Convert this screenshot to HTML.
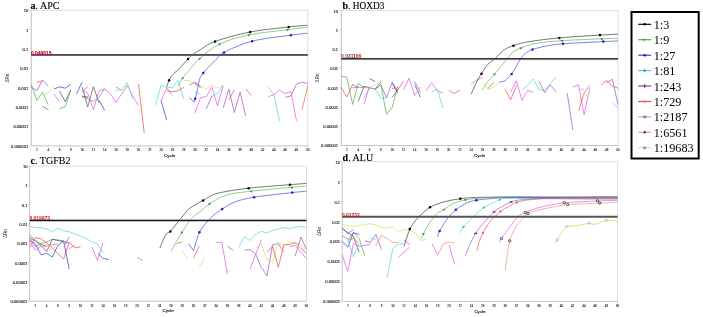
<!DOCTYPE html><html><head><meta charset="utf-8"><style>html,body{margin:0;padding:0;background:#fff;overflow:hidden}svg{display:block;will-change:transform;filter:blur(0.25px)}</style></head><body>
<svg width="703" height="317" viewBox="0 0 703 317">
<rect width="703" height="317" fill="#fff"/>
<path d="M31.3 10.3H307.8V145.9" fill="none" stroke="#d4d4d4" stroke-width="0.8"/>
<path d="M31.3 10.3V145.9H307.8" fill="none" stroke="#c4c4c4" stroke-width="1"/>
<g font-family="Liberation Sans, sans-serif" font-size="4.1" fill="#1a1a1a" stroke="#1a1a1a" stroke-width="0.12" text-anchor="end"><text x="28.2" y="12.2">10</text><text x="28.2" y="31.6">1</text><text x="28.2" y="50.9">0.1</text><text x="28.2" y="70.3">0.01</text><text x="28.2" y="89.7">0.001</text><text x="28.2" y="109.1">0.0001</text><text x="28.2" y="128.4">0.00001</text><text x="28.2" y="147.8">0.000001</text></g>
<path d="M29.8 10.3H31.3M29.8 29.7H31.3M29.8 49.0H31.3M29.8 68.4H31.3M29.8 87.8H31.3M29.8 107.2H31.3M29.8 126.5H31.3M29.8 145.9H31.3M36.9 145.9V147.2M48.2 145.9V147.2M59.5 145.9V147.2M70.8 145.9V147.2M82.1 145.9V147.2M93.4 145.9V147.2M104.7 145.9V147.2M115.9 145.9V147.2M127.2 145.9V147.2M138.5 145.9V147.2M149.8 145.9V147.2M161.1 145.9V147.2M172.4 145.9V147.2M183.7 145.9V147.2M194.9 145.9V147.2M206.2 145.9V147.2M217.5 145.9V147.2M228.8 145.9V147.2M240.1 145.9V147.2M251.4 145.9V147.2M262.7 145.9V147.2M273.9 145.9V147.2M285.2 145.9V147.2M296.5 145.9V147.2M307.8 145.9V147.2" stroke="#bbb" stroke-width="0.6"/>
<g font-family="Liberation Sans, sans-serif" font-size="4.1" fill="#1a1a1a" stroke="#1a1a1a" stroke-width="0.12" text-anchor="middle"><text x="36.9" y="151.2" textLength="1.65" lengthAdjust="spacingAndGlyphs">2</text><text x="48.2" y="151.2" textLength="1.65" lengthAdjust="spacingAndGlyphs">4</text><text x="59.5" y="151.2" textLength="1.65" lengthAdjust="spacingAndGlyphs">6</text><text x="70.8" y="151.2" textLength="1.65" lengthAdjust="spacingAndGlyphs">8</text><text x="82.1" y="151.2" textLength="3.30" lengthAdjust="spacingAndGlyphs">10</text><text x="93.4" y="151.2" textLength="3.30" lengthAdjust="spacingAndGlyphs">12</text><text x="104.7" y="151.2" textLength="3.30" lengthAdjust="spacingAndGlyphs">14</text><text x="115.9" y="151.2" textLength="3.30" lengthAdjust="spacingAndGlyphs">16</text><text x="127.2" y="151.2" textLength="3.30" lengthAdjust="spacingAndGlyphs">18</text><text x="138.5" y="151.2" textLength="3.30" lengthAdjust="spacingAndGlyphs">20</text><text x="149.8" y="151.2" textLength="3.30" lengthAdjust="spacingAndGlyphs">22</text><text x="161.1" y="151.2" textLength="3.30" lengthAdjust="spacingAndGlyphs">24</text><text x="172.4" y="151.2" textLength="3.30" lengthAdjust="spacingAndGlyphs">26</text><text x="183.7" y="151.2" textLength="3.30" lengthAdjust="spacingAndGlyphs">28</text><text x="194.9" y="151.2" textLength="3.30" lengthAdjust="spacingAndGlyphs">30</text><text x="206.2" y="151.2" textLength="3.30" lengthAdjust="spacingAndGlyphs">32</text><text x="217.5" y="151.2" textLength="3.30" lengthAdjust="spacingAndGlyphs">34</text><text x="228.8" y="151.2" textLength="3.30" lengthAdjust="spacingAndGlyphs">36</text><text x="240.1" y="151.2" textLength="3.30" lengthAdjust="spacingAndGlyphs">38</text><text x="251.4" y="151.2" textLength="3.30" lengthAdjust="spacingAndGlyphs">40</text><text x="262.7" y="151.2" textLength="3.30" lengthAdjust="spacingAndGlyphs">42</text><text x="273.9" y="151.2" textLength="3.30" lengthAdjust="spacingAndGlyphs">44</text><text x="285.2" y="151.2" textLength="3.30" lengthAdjust="spacingAndGlyphs">46</text><text x="296.5" y="151.2" textLength="3.30" lengthAdjust="spacingAndGlyphs">48</text><text x="307.8" y="151.2" textLength="3.30" lengthAdjust="spacingAndGlyphs">50</text></g>
<text x="169.6" y="157.0" font-family="Liberation Sans, sans-serif" font-size="4.4" fill="#222" stroke="#222" stroke-width="0.15" text-anchor="middle">Cycle</text>
<text transform="translate(8.6 78.1) rotate(-90)" font-family="Liberation Sans, sans-serif" font-size="4.5" fill="#222" text-anchor="middle">ΔRn</text>
<text x="30.6" y="8.9" font-family="Liberation Serif, serif" font-size="10" fill="#000" stroke="#000" stroke-width="0.12"><tspan font-weight="bold">a</tspan>. APC</text>
<path d="M341.3 10.6H618.0V145.5" fill="none" stroke="#d4d4d4" stroke-width="0.8"/>
<path d="M341.3 10.6V145.5H618.0" fill="none" stroke="#c4c4c4" stroke-width="1"/>
<g font-family="Liberation Sans, sans-serif" font-size="4.1" fill="#1a1a1a" stroke="#1a1a1a" stroke-width="0.12" text-anchor="end"><text x="338.1" y="12.5">10</text><text x="338.1" y="31.8">1</text><text x="338.1" y="51.0">0.1</text><text x="338.1" y="70.3">0.01</text><text x="338.1" y="89.6">0.001</text><text x="338.1" y="108.9">0.0001</text><text x="338.1" y="128.1">0.00001</text><text x="338.1" y="147.4">0.000001</text></g>
<path d="M339.8 10.6H341.3M339.8 29.9H341.3M339.8 49.1H341.3M339.8 68.4H341.3M339.8 87.7H341.3M339.8 107.0H341.3M339.8 126.2H341.3M339.8 145.5H341.3M346.9 145.5V146.8M358.2 145.5V146.8M369.5 145.5V146.8M380.8 145.5V146.8M392.1 145.5V146.8M403.4 145.5V146.8M414.7 145.5V146.8M426.0 145.5V146.8M437.3 145.5V146.8M448.6 145.5V146.8M459.9 145.5V146.8M471.2 145.5V146.8M482.5 145.5V146.8M493.8 145.5V146.8M505.1 145.5V146.8M516.4 145.5V146.8M527.6 145.5V146.8M538.9 145.5V146.8M550.2 145.5V146.8M561.5 145.5V146.8M572.8 145.5V146.8M584.1 145.5V146.8M595.4 145.5V146.8M606.7 145.5V146.8M618.0 145.5V146.8" stroke="#bbb" stroke-width="0.6"/>
<g font-family="Liberation Sans, sans-serif" font-size="4.1" fill="#1a1a1a" stroke="#1a1a1a" stroke-width="0.12" text-anchor="middle"><text x="346.9" y="150.8" textLength="1.65" lengthAdjust="spacingAndGlyphs">2</text><text x="358.2" y="150.8" textLength="1.65" lengthAdjust="spacingAndGlyphs">4</text><text x="369.5" y="150.8" textLength="1.65" lengthAdjust="spacingAndGlyphs">6</text><text x="380.8" y="150.8" textLength="1.65" lengthAdjust="spacingAndGlyphs">8</text><text x="392.1" y="150.8" textLength="3.30" lengthAdjust="spacingAndGlyphs">10</text><text x="403.4" y="150.8" textLength="3.30" lengthAdjust="spacingAndGlyphs">12</text><text x="414.7" y="150.8" textLength="3.30" lengthAdjust="spacingAndGlyphs">14</text><text x="426.0" y="150.8" textLength="3.30" lengthAdjust="spacingAndGlyphs">16</text><text x="437.3" y="150.8" textLength="3.30" lengthAdjust="spacingAndGlyphs">18</text><text x="448.6" y="150.8" textLength="3.30" lengthAdjust="spacingAndGlyphs">20</text><text x="459.9" y="150.8" textLength="3.30" lengthAdjust="spacingAndGlyphs">22</text><text x="471.2" y="150.8" textLength="3.30" lengthAdjust="spacingAndGlyphs">24</text><text x="482.5" y="150.8" textLength="3.30" lengthAdjust="spacingAndGlyphs">26</text><text x="493.8" y="150.8" textLength="3.30" lengthAdjust="spacingAndGlyphs">28</text><text x="505.1" y="150.8" textLength="3.30" lengthAdjust="spacingAndGlyphs">30</text><text x="516.4" y="150.8" textLength="3.30" lengthAdjust="spacingAndGlyphs">32</text><text x="527.6" y="150.8" textLength="3.30" lengthAdjust="spacingAndGlyphs">34</text><text x="538.9" y="150.8" textLength="3.30" lengthAdjust="spacingAndGlyphs">36</text><text x="550.2" y="150.8" textLength="3.30" lengthAdjust="spacingAndGlyphs">38</text><text x="561.5" y="150.8" textLength="3.30" lengthAdjust="spacingAndGlyphs">40</text><text x="572.8" y="150.8" textLength="3.30" lengthAdjust="spacingAndGlyphs">42</text><text x="584.1" y="150.8" textLength="3.30" lengthAdjust="spacingAndGlyphs">44</text><text x="595.4" y="150.8" textLength="3.30" lengthAdjust="spacingAndGlyphs">46</text><text x="606.7" y="150.8" textLength="3.30" lengthAdjust="spacingAndGlyphs">48</text><text x="618.0" y="150.8" textLength="3.30" lengthAdjust="spacingAndGlyphs">50</text></g>
<text x="479.6" y="156.6" font-family="Liberation Sans, sans-serif" font-size="4.4" fill="#222" stroke="#222" stroke-width="0.15" text-anchor="middle">Cycle</text>
<text transform="translate(318.8 78.0) rotate(-90)" font-family="Liberation Sans, sans-serif" font-size="4.5" fill="#222" text-anchor="middle">ΔRn</text>
<text x="342.4" y="8.9" font-family="Liberation Serif, serif" font-size="10" fill="#000" stroke="#000" stroke-width="0.12"><tspan font-weight="bold">b</tspan></text><text x="348.0" y="8.9" font-family="Liberation Serif, serif" font-size="10" fill="#000" stroke="#000" stroke-width="0.12" textLength="36.4" lengthAdjust="spacingAndGlyphs">. HOXD3</text>
<path d="M29.7 166.1H306.5V301.2" fill="none" stroke="#d4d4d4" stroke-width="0.8"/>
<path d="M29.7 166.1V301.2H306.5" fill="none" stroke="#c4c4c4" stroke-width="1"/>
<g font-family="Liberation Sans, sans-serif" font-size="4.1" fill="#1a1a1a" stroke="#1a1a1a" stroke-width="0.12" text-anchor="end"><text x="27.5" y="168.0">10</text><text x="27.5" y="187.3">1</text><text x="27.5" y="206.6">0.1</text><text x="27.5" y="225.9">0.01</text><text x="27.5" y="245.2">0.001</text><text x="27.5" y="264.5">0.0001</text><text x="27.5" y="283.8">0.00001</text><text x="27.5" y="303.1">0.000001</text></g>
<path d="M28.2 166.1H29.7M28.2 185.4H29.7M28.2 204.7H29.7M28.2 224.0H29.7M28.2 243.3H29.7M28.2 262.6H29.7M28.2 281.9H29.7M28.2 301.2H29.7M35.3 301.2V302.5M46.6 301.2V302.5M57.9 301.2V302.5M69.2 301.2V302.5M80.5 301.2V302.5M91.8 301.2V302.5M103.1 301.2V302.5M114.4 301.2V302.5M125.7 301.2V302.5M137.0 301.2V302.5M148.3 301.2V302.5M159.6 301.2V302.5M170.9 301.2V302.5M182.2 301.2V302.5M193.5 301.2V302.5M204.8 301.2V302.5M216.1 301.2V302.5M227.4 301.2V302.5M238.7 301.2V302.5M250.0 301.2V302.5M261.3 301.2V302.5M272.6 301.2V302.5M283.9 301.2V302.5M295.2 301.2V302.5M306.5 301.2V302.5" stroke="#bbb" stroke-width="0.6"/>
<g font-family="Liberation Sans, sans-serif" font-size="4.1" fill="#1a1a1a" stroke="#1a1a1a" stroke-width="0.12" text-anchor="middle"><text x="35.3" y="306.5" textLength="1.65" lengthAdjust="spacingAndGlyphs">2</text><text x="46.6" y="306.5" textLength="1.65" lengthAdjust="spacingAndGlyphs">4</text><text x="57.9" y="306.5" textLength="1.65" lengthAdjust="spacingAndGlyphs">6</text><text x="69.2" y="306.5" textLength="1.65" lengthAdjust="spacingAndGlyphs">8</text><text x="80.5" y="306.5" textLength="3.30" lengthAdjust="spacingAndGlyphs">10</text><text x="91.8" y="306.5" textLength="3.30" lengthAdjust="spacingAndGlyphs">12</text><text x="103.1" y="306.5" textLength="3.30" lengthAdjust="spacingAndGlyphs">14</text><text x="114.4" y="306.5" textLength="3.30" lengthAdjust="spacingAndGlyphs">16</text><text x="125.7" y="306.5" textLength="3.30" lengthAdjust="spacingAndGlyphs">18</text><text x="137.0" y="306.5" textLength="3.30" lengthAdjust="spacingAndGlyphs">20</text><text x="148.3" y="306.5" textLength="3.30" lengthAdjust="spacingAndGlyphs">22</text><text x="159.6" y="306.5" textLength="3.30" lengthAdjust="spacingAndGlyphs">24</text><text x="170.9" y="306.5" textLength="3.30" lengthAdjust="spacingAndGlyphs">26</text><text x="182.2" y="306.5" textLength="3.30" lengthAdjust="spacingAndGlyphs">28</text><text x="193.5" y="306.5" textLength="3.30" lengthAdjust="spacingAndGlyphs">30</text><text x="204.8" y="306.5" textLength="3.30" lengthAdjust="spacingAndGlyphs">32</text><text x="216.1" y="306.5" textLength="3.30" lengthAdjust="spacingAndGlyphs">34</text><text x="227.4" y="306.5" textLength="3.30" lengthAdjust="spacingAndGlyphs">36</text><text x="238.7" y="306.5" textLength="3.30" lengthAdjust="spacingAndGlyphs">38</text><text x="250.0" y="306.5" textLength="3.30" lengthAdjust="spacingAndGlyphs">40</text><text x="261.3" y="306.5" textLength="3.30" lengthAdjust="spacingAndGlyphs">42</text><text x="272.6" y="306.5" textLength="3.30" lengthAdjust="spacingAndGlyphs">44</text><text x="283.9" y="306.5" textLength="3.30" lengthAdjust="spacingAndGlyphs">46</text><text x="295.2" y="306.5" textLength="3.30" lengthAdjust="spacingAndGlyphs">48</text><text x="306.5" y="306.5" textLength="3.30" lengthAdjust="spacingAndGlyphs">50</text></g>
<text x="168.1" y="312.3" font-family="Liberation Sans, sans-serif" font-size="4.4" fill="#222" stroke="#222" stroke-width="0.15" text-anchor="middle">Cycle</text>
<text transform="translate(7.0 233.6) rotate(-90)" font-family="Liberation Sans, sans-serif" font-size="4.5" fill="#222" text-anchor="middle">ΔRn</text>
<text x="30.6" y="163.9" font-family="Liberation Serif, serif" font-size="10" fill="#000" stroke="#000" stroke-width="0.12"><tspan font-weight="bold">c</tspan>. TGFB2</text>
<path d="M342.2 161.7H617.6V301.4" fill="none" stroke="#d4d4d4" stroke-width="0.8"/>
<path d="M342.2 161.7V301.4H617.6" fill="none" stroke="#c4c4c4" stroke-width="1"/>
<g font-family="Liberation Sans, sans-serif" font-size="4.1" fill="#1a1a1a" stroke="#1a1a1a" stroke-width="0.12" text-anchor="end"><text x="340.1" y="163.6">10</text><text x="340.1" y="183.6">1</text><text x="340.1" y="203.5">0.1</text><text x="340.1" y="223.5">0.01</text><text x="340.1" y="243.4">0.001</text><text x="340.1" y="263.4">0.0001</text><text x="340.1" y="283.3">0.00001</text><text x="340.1" y="303.3">0.000001</text></g>
<path d="M340.7 161.7H342.2M340.7 181.7H342.2M340.7 201.6H342.2M340.7 221.6H342.2M340.7 241.5H342.2M340.7 261.5H342.2M340.7 281.4H342.2M340.7 301.4H342.2M347.8 301.4V302.7M359.1 301.4V302.7M370.3 301.4V302.7M381.5 301.4V302.7M392.8 301.4V302.7M404.0 301.4V302.7M415.3 301.4V302.7M426.5 301.4V302.7M437.7 301.4V302.7M449.0 301.4V302.7M460.2 301.4V302.7M471.5 301.4V302.7M482.7 301.4V302.7M494.0 301.4V302.7M505.2 301.4V302.7M516.4 301.4V302.7M527.7 301.4V302.7M538.9 301.4V302.7M550.2 301.4V302.7M561.4 301.4V302.7M572.6 301.4V302.7M583.9 301.4V302.7M595.1 301.4V302.7M606.4 301.4V302.7M617.6 301.4V302.7" stroke="#bbb" stroke-width="0.6"/>
<g font-family="Liberation Sans, sans-serif" font-size="4.1" fill="#1a1a1a" stroke="#1a1a1a" stroke-width="0.12" text-anchor="middle"><text x="347.8" y="306.7" textLength="1.65" lengthAdjust="spacingAndGlyphs">2</text><text x="359.1" y="306.7" textLength="1.65" lengthAdjust="spacingAndGlyphs">4</text><text x="370.3" y="306.7" textLength="1.65" lengthAdjust="spacingAndGlyphs">6</text><text x="381.5" y="306.7" textLength="1.65" lengthAdjust="spacingAndGlyphs">8</text><text x="392.8" y="306.7" textLength="3.30" lengthAdjust="spacingAndGlyphs">10</text><text x="404.0" y="306.7" textLength="3.30" lengthAdjust="spacingAndGlyphs">12</text><text x="415.3" y="306.7" textLength="3.30" lengthAdjust="spacingAndGlyphs">14</text><text x="426.5" y="306.7" textLength="3.30" lengthAdjust="spacingAndGlyphs">16</text><text x="437.7" y="306.7" textLength="3.30" lengthAdjust="spacingAndGlyphs">18</text><text x="449.0" y="306.7" textLength="3.30" lengthAdjust="spacingAndGlyphs">20</text><text x="460.2" y="306.7" textLength="3.30" lengthAdjust="spacingAndGlyphs">22</text><text x="471.5" y="306.7" textLength="3.30" lengthAdjust="spacingAndGlyphs">24</text><text x="482.7" y="306.7" textLength="3.30" lengthAdjust="spacingAndGlyphs">26</text><text x="494.0" y="306.7" textLength="3.30" lengthAdjust="spacingAndGlyphs">28</text><text x="505.2" y="306.7" textLength="3.30" lengthAdjust="spacingAndGlyphs">30</text><text x="516.4" y="306.7" textLength="3.30" lengthAdjust="spacingAndGlyphs">32</text><text x="527.7" y="306.7" textLength="3.30" lengthAdjust="spacingAndGlyphs">34</text><text x="538.9" y="306.7" textLength="3.30" lengthAdjust="spacingAndGlyphs">36</text><text x="550.2" y="306.7" textLength="3.30" lengthAdjust="spacingAndGlyphs">38</text><text x="561.4" y="306.7" textLength="3.30" lengthAdjust="spacingAndGlyphs">40</text><text x="572.6" y="306.7" textLength="3.30" lengthAdjust="spacingAndGlyphs">42</text><text x="583.9" y="306.7" textLength="3.30" lengthAdjust="spacingAndGlyphs">44</text><text x="595.1" y="306.7" textLength="3.30" lengthAdjust="spacingAndGlyphs">46</text><text x="606.4" y="306.7" textLength="3.30" lengthAdjust="spacingAndGlyphs">48</text><text x="617.6" y="306.7" textLength="3.30" lengthAdjust="spacingAndGlyphs">50</text></g>
<text x="479.9" y="312.5" font-family="Liberation Sans, sans-serif" font-size="4.4" fill="#222" stroke="#222" stroke-width="0.15" text-anchor="middle">Cycle</text>
<text transform="translate(320.6 231.5) rotate(-90)" font-family="Liberation Sans, sans-serif" font-size="4.5" fill="#222" text-anchor="middle">ΔRn</text>
<text x="342.6" y="160.7" font-family="Liberation Serif, serif" font-size="10" fill="#000" stroke="#000" stroke-width="0.12"><tspan font-weight="bold">d</tspan>. ALU</text>
<rect x="631.5" y="12" width="67.2" height="146.5" fill="#fff" stroke="#000" stroke-width="2"/>
<path d="M638.2 24.3H651.1" stroke="#000" stroke-width="1.15"/>
<circle cx="644.7" cy="24.3" r="1.25" fill="#000"/>
<text transform="translate(653.7 28.80) scale(1 1.09)" font-family="Liberation Serif, serif" font-size="12.2" fill="#000">1:3</text>
<path d="M638.2 39.7H651.1" stroke="#50a850" stroke-width="1.15"/>
<path d="M643.6 38.4L646.2 39.7L643.6 41.0Z" fill="#2e8b2e"/>
<text transform="translate(653.7 44.23) scale(1 1.09)" font-family="Liberation Serif, serif" font-size="12.2" fill="#000">1:9</text>
<path d="M638.2 55.2H651.1" stroke="#3838c8" stroke-width="1.15"/>
<circle cx="644.7" cy="55.2" r="1.25" fill="#2020a0"/>
<text transform="translate(653.7 59.66) scale(1 1.09)" font-family="Liberation Serif, serif" font-size="12.2" fill="#000">1:27</text>
<path d="M638.2 70.6H651.1" stroke="#50c8d8" stroke-width="1.15"/>
<circle cx="644.7" cy="70.6" r="1.25" fill="#20a0b0"/>
<text transform="translate(653.7 75.09) scale(1 1.09)" font-family="Liberation Serif, serif" font-size="12.2" fill="#000">1:81</text>
<path d="M638.2 86.0H651.1" stroke="#8a3898" stroke-width="1.15"/>
<path d="M644.7 84.2V87.8" stroke="#6a1a78" stroke-width="1.1"/>
<text transform="translate(653.7 90.52) scale(1 1.09)" font-family="Liberation Serif, serif" font-size="12.2" fill="#000">1:243</text>
<path d="M638.2 101.5H651.1" stroke="#e04858" stroke-width="1.15"/>
<circle cx="644.7" cy="101.5" r="1.25" fill="#f07040"/>
<text transform="translate(653.7 105.95) scale(1 1.09)" font-family="Liberation Serif, serif" font-size="12.2" fill="#000">1:729</text>
<path d="M638.2 116.9H651.1" stroke="#eb8ceb" stroke-width="1.15"/>
<circle cx="644.7" cy="116.9" r="1.2" fill="#bbb" stroke="#555" stroke-width="0.7"/>
<text transform="translate(653.7 121.38) scale(1 1.09)" font-family="Liberation Serif, serif" font-size="12.2" fill="#000">1:2187</text>
<path d="M638.2 132.3H651.1" stroke="#e8a08c" stroke-width="1.15"/>
<circle cx="644.7" cy="132.3" r="1.25" fill="#444"/>
<text transform="translate(653.7 136.81) scale(1 1.09)" font-family="Liberation Serif, serif" font-size="12.2" fill="#000">1:6561</text>
<path d="M638.2 147.7H651.1" stroke="#e2e292" stroke-width="1.15"/>
<path d="M644.7 146.1L645.3 147.3L646.5 147.3L645.6 148.1L646 149.3L644.7 148.6L643.4 149.3L643.8 148.1L642.9 147.3L644.1 147.3Z" fill="#6a88c8" stroke="#889" stroke-width="0.3"/>
<text transform="translate(653.7 152.24) scale(1 1.09)" font-family="Liberation Serif, serif" font-size="12.2" fill="#000">1:19683</text>
<path d="M31.3 87.2 L36.9 90.7 L42.6 80.2 L48.2 86.1" fill="none" stroke="#a45cc4" stroke-width="0.75" stroke-linejoin="round"/>
<path d="M36.9 82.4 L42.6 80.6" fill="none" stroke="#ea5454" stroke-width="0.75" stroke-linejoin="round"/>
<path d="M31.3 84.6 L36.9 100.4 L42.6 92.2 L48.2 104.8" fill="none" stroke="#56b256" stroke-width="0.75" stroke-linejoin="round"/>
<path d="M42.6 95.4 L48.2 92.8 L53.9 85.6" fill="none" stroke="#dcdc6a" stroke-width="0.75" stroke-linejoin="round"/>
<path d="M42.6 106.1 L48.2 109.6" fill="none" stroke="#5c5c5c" stroke-width="0.75" stroke-linejoin="round"/>
<path d="M53.9 94.1 L59.5 101.7" fill="none" stroke="#ec5aec" stroke-width="0.75" stroke-linejoin="round"/>
<path d="M53.9 89.0 L59.5 86.9 L65.2 88.2 L70.8 84.4" fill="none" stroke="#4444dc" stroke-width="0.75" stroke-linejoin="round"/>
<path d="M59.5 90.9 L65.2 101.7 L70.8 89.7" fill="none" stroke="#5c5c5c" stroke-width="0.75" stroke-linejoin="round"/>
<path d="M59.5 108.6 L65.2 106.7 L70.8 89.7" fill="none" stroke="#56b256" stroke-width="0.75" stroke-linejoin="round"/>
<path d="M76.4 94.1 L82.1 82.1" fill="none" stroke="#4444dc" stroke-width="0.75" stroke-linejoin="round"/>
<path d="M82.1 91.6 L87.7 86.9" fill="none" stroke="#ea5454" stroke-width="0.75" stroke-linejoin="round"/>
<path d="M82.1 87.0 L87.7 106.8 L93.4 86.6 L99.0 102.7" fill="none" stroke="#5c5c5c" stroke-width="0.75" stroke-linejoin="round"/>
<path d="M82.1 96.2 L87.7 97.2" fill="none" stroke="#5c5c5c" stroke-width="0.75" stroke-linejoin="round"/>
<path d="M82.1 90.1 L87.7 93.1 L93.4 109.8 L99.0 91.1 L104.7 89.1 L110.3 93.5 L115.9 102.3 L121.6 94.1 L127.2 85.3 L132.9 96.0 L138.5 105.5" fill="none" stroke="#ec5aec" stroke-width="0.75" stroke-linejoin="round"/>
<path d="M82.1 96.2 L87.7 97.2" fill="none" stroke="#a45cc4" stroke-width="0.75" stroke-linejoin="round"/>
<path d="M82.1 97.2 L87.7 98.7 L93.4 101.7 L99.0 97.2 L104.7 88.6" fill="none" stroke="#56b256" stroke-width="0.75" stroke-linejoin="round"/>
<path d="M99.0 100.2 L104.7 110.3" fill="none" stroke="#4444dc" stroke-width="0.75" stroke-linejoin="round"/>
<path d="M115.9 86.9 L121.6 90.3" fill="none" stroke="#56b256" stroke-width="0.75" stroke-linejoin="round"/>
<path d="M115.9 90.7 L121.6 89.7 L127.2 82.7 L132.9 99.1" fill="none" stroke="#5cd8de" stroke-width="0.75" stroke-linejoin="round"/>
<path d="M121.6 94.5 L127.2 86.9" fill="none" stroke="#dcdc6a" stroke-width="0.75" stroke-linejoin="round"/>
<path d="M138.5 84.0 L144.2 132.6" fill="none" stroke="#ea5454" stroke-width="0.75" stroke-linejoin="round"/>
<path d="M155.4 104.8 L161.1 85.3 L166.7 87.2 L172.4 87.8 L178.0 80.2 L183.7 99.1" fill="none" stroke="#5cd8de" stroke-width="0.75" stroke-linejoin="round"/>
<path d="M161.1 101.0 L166.7 87.8 L172.4 95.4" fill="none" stroke="#ec5aec" stroke-width="0.75" stroke-linejoin="round"/>
<path d="M161.1 100.7 L166.7 120.2" fill="none" stroke="#4444dc" stroke-width="0.75" stroke-linejoin="round"/>
<path d="M166.7 90.9 L172.4 91.6 L178.0 90.9 L183.7 87.2" fill="none" stroke="#ea5454" stroke-width="0.75" stroke-linejoin="round"/>
<path d="M183.7 80.5 L189.3 80.5 L194.9 84.4 L200.6 86.0 L206.2 89.2 L211.9 84.6 L217.5 88.2 L223.2 85.3" fill="none" stroke="#dcdc6a" stroke-width="0.75" stroke-linejoin="round"/>
<path d="M189.3 85.2 L194.9 82.1 L200.6 86.8" fill="none" stroke="#a45cc4" stroke-width="0.75" stroke-linejoin="round"/>
<path d="M194.9 83.0 L200.6 87.6" fill="none" stroke="#ea5454" stroke-width="0.75" stroke-linejoin="round"/>
<path d="M194.9 91.5 L200.6 94.4" fill="none" stroke="#5cd8de" stroke-width="0.75" stroke-linejoin="round"/>
<path d="M194.9 113.0 L200.6 97.5 L206.2 96.6 L211.9 87.2 L217.5 105.8 L223.2 85.6" fill="none" stroke="#ec5aec" stroke-width="0.75" stroke-linejoin="round"/>
<path d="M211.9 96.0 L217.5 93.5 L223.2 85.3" fill="none" stroke="#5cd8de" stroke-width="0.75" stroke-linejoin="round"/>
<path d="M206.2 109.2 L211.9 96.0" fill="none" stroke="#a45cc4" stroke-width="0.75" stroke-linejoin="round"/>
<path d="M223.2 108.0 L228.8 89.0 L234.4 112.5 L240.1 92.2 L245.7 116.0" fill="none" stroke="#a45cc4" stroke-width="0.75" stroke-linejoin="round"/>
<path d="M228.8 99.8 L234.4 89.7" fill="none" stroke="#ea5454" stroke-width="0.75" stroke-linejoin="round"/>
<path d="M245.7 89.0 L251.4 95.4" fill="none" stroke="#ea5454" stroke-width="0.75" stroke-linejoin="round"/>
<path d="M268.3 87.2 L273.9 94.7 L279.6 121.6" fill="none" stroke="#5cd8de" stroke-width="0.75" stroke-linejoin="round"/>
<path d="M268.3 96.6 L273.9 94.7 L279.6 90.3 L285.2 93.5 L290.9 91.6 L296.5 120.8" fill="none" stroke="#ec5aec" stroke-width="0.75" stroke-linejoin="round"/>
<path d="M285.2 97.3 L290.9 96.0 L296.5 84.0 L302.2 82.1 L307.8 83.4" fill="none" stroke="#a45cc4" stroke-width="0.75" stroke-linejoin="round"/>
<path d="M302.2 109.2 L307.8 85.9" fill="none" stroke="#e67a3a" stroke-width="0.75" stroke-linejoin="round"/>
<path d="M341.3 76.0 L346.9 77.4 L352.6 104.4 L358.2 83.6 L363.9 87.3" fill="none" stroke="#56b256" stroke-width="0.75" stroke-linejoin="round"/>
<path d="M341.3 87.8 L346.9 96.8 L352.6 84.5 L358.2 87.3" fill="none" stroke="#ea5454" stroke-width="0.75" stroke-linejoin="round"/>
<path d="M352.6 87.8 L358.2 87.3 L363.9 87.3 L369.5 87.3" fill="none" stroke="#a45cc4" stroke-width="0.75" stroke-linejoin="round"/>
<path d="M358.2 101.5 L363.9 86.4 L369.5 87.8 L375.2 89.2 L380.8 81.7" fill="none" stroke="#5c5c5c" stroke-width="0.75" stroke-linejoin="round"/>
<path d="M363.9 87.8 L369.5 87.8 L375.2 85.0 L380.8 80.7" fill="none" stroke="#dcdc6a" stroke-width="0.75" stroke-linejoin="round"/>
<path d="M363.9 98.2 L369.5 87.8 L375.2 89.2 L380.8 98.2 L386.5 97.9" fill="none" stroke="#5cd8de" stroke-width="0.75" stroke-linejoin="round"/>
<path d="M363.9 104.4 L369.5 86.4" fill="none" stroke="#ec5aec" stroke-width="0.75" stroke-linejoin="round"/>
<path d="M369.5 78.4 L375.2 81.7" fill="none" stroke="#4444dc" stroke-width="0.75" stroke-linejoin="round"/>
<path d="M375.2 89.2 L380.8 85.0 L386.5 97.9 L392.1 82.1 L397.8 91.0" fill="none" stroke="#a45cc4" stroke-width="0.75" stroke-linejoin="round"/>
<path d="M380.8 84.0 L386.5 114.6 L392.1 107.5 L397.8 86.0" fill="none" stroke="#56b256" stroke-width="0.75" stroke-linejoin="round"/>
<path d="M392.1 83.4 L397.8 92.8" fill="none" stroke="#4444dc" stroke-width="0.75" stroke-linejoin="round"/>
<path d="M392.1 88.4 L397.8 89.7 L403.4 81.5" fill="none" stroke="#ea5454" stroke-width="0.75" stroke-linejoin="round"/>
<path d="M392.1 97.3 L397.8 89.7" fill="none" stroke="#5c5c5c" stroke-width="0.75" stroke-linejoin="round"/>
<path d="M403.4 89.7 L409.1 78.3 L414.7 95.4 L420.4 87.2" fill="none" stroke="#ec5aec" stroke-width="0.75" stroke-linejoin="round"/>
<path d="M414.7 84.6 L420.4 97.3" fill="none" stroke="#4444dc" stroke-width="0.75" stroke-linejoin="round"/>
<path d="M414.7 81.5 L420.4 92.8" fill="none" stroke="#a45cc4" stroke-width="0.75" stroke-linejoin="round"/>
<path d="M414.7 95.4 L420.4 87.2" fill="none" stroke="#dcdc6a" stroke-width="0.75" stroke-linejoin="round"/>
<path d="M426.0 90.9 L431.7 82.7 L437.3 90.9 L442.9 92.8" fill="none" stroke="#ec5aec" stroke-width="0.75" stroke-linejoin="round"/>
<path d="M431.7 92.2 L437.3 89.0 L442.9 108.0" fill="none" stroke="#5cd8de" stroke-width="0.75" stroke-linejoin="round"/>
<path d="M448.6 90.3 L454.2 93.5 L459.9 90.3" fill="none" stroke="#ea5454" stroke-width="0.75" stroke-linejoin="round"/>
<path d="M471.2 83.9 L476.8 80.0 L482.5 77.6" fill="none" stroke="#ec5aec" stroke-width="0.75" stroke-linejoin="round"/>
<path d="M482.5 82.3 L488.1 89.4 L493.8 87.1 L499.4 82.3" fill="none" stroke="#dcdc6a" stroke-width="0.75" stroke-linejoin="round"/>
<path d="M488.1 88.6 L493.8 82.3" fill="none" stroke="#ea5454" stroke-width="0.75" stroke-linejoin="round"/>
<path d="M505.1 89.4 L510.7 99.7 L516.4 85.5" fill="none" stroke="#ea5454" stroke-width="0.75" stroke-linejoin="round"/>
<path d="M510.7 91.8 L516.4 80.8 L522.0 100.5 L527.6 90.2 L533.3 92.6" fill="none" stroke="#ec5aec" stroke-width="0.75" stroke-linejoin="round"/>
<path d="M522.0 90.2 L527.6 85.5 L533.3 78.9 L538.9 89.4 L544.6 90.2 L550.2 83.9 L555.9 77.1" fill="none" stroke="#5cd8de" stroke-width="0.75" stroke-linejoin="round"/>
<path d="M538.9 80.8 L544.6 92.6 L550.2 84.7 L555.9 91.8" fill="none" stroke="#a45cc4" stroke-width="0.75" stroke-linejoin="round"/>
<path d="M567.2 93.0 L572.8 130.0" fill="none" stroke="#a45cc4" stroke-width="0.75" stroke-linejoin="round"/>
<path d="M572.8 87.3 L578.5 84.5 L584.1 114.8 L589.8 88.3" fill="none" stroke="#ec5aec" stroke-width="0.75" stroke-linejoin="round"/>
<path d="M578.5 89.2 L584.1 89.2" fill="none" stroke="#5cd8de" stroke-width="0.75" stroke-linejoin="round"/>
<path d="M578.5 111.0 L584.1 93.0 L589.8 85.4" fill="none" stroke="#ea5454" stroke-width="0.75" stroke-linejoin="round"/>
<path d="M578.5 101.5 L584.1 94.9 L589.8 94.9" fill="none" stroke="#dcdc6a" stroke-width="0.75" stroke-linejoin="round"/>
<path d="M601.1 84.9 L606.7 80.5 L612.4 86.0 L618.0 88.2" fill="none" stroke="#ea5454" stroke-width="0.75" stroke-linejoin="round"/>
<path d="M606.7 82.7 L612.4 79.3 L618.0 104.7" fill="none" stroke="#a45cc4" stroke-width="0.75" stroke-linejoin="round"/>
<path d="M612.4 102.5 L618.0 108.0" fill="none" stroke="#5cd8de" stroke-width="0.75" stroke-linejoin="round"/>
<path d="M29.7 226.3 L35.3 227.4 L41.0 227.8 L46.6 228.9 L52.3 232.1 L57.9 228.2 L63.6 230.8 L69.2 231.8 L74.9 233.7 L80.5 236.0 L86.2 238.4 L91.8 242.0 L97.5 243.9 L103.1 253.0" fill="none" stroke="#5cd8de" stroke-width="0.75" stroke-linejoin="round"/>
<path d="M29.7 235.0 L35.3 240.5 L41.0 243.8 L46.6 242.1 L52.3 239.2 L57.9 240.0 L63.6 240.8" fill="none" stroke="#56b256" stroke-width="0.75" stroke-linejoin="round"/>
<path d="M29.7 237.7 L35.3 241.0 L41.0 245.4 L46.6 251.5 L52.3 239.4 L57.9 240.5 L63.6 241.5 L69.2 243.0" fill="none" stroke="#5c5c5c" stroke-width="0.75" stroke-linejoin="round"/>
<path d="M29.7 247.6 L35.3 237.7 L41.0 238.8 L46.6 242.7 L52.3 247.6 L57.9 253.7 L63.6 258.9 L69.2 242.4 L74.9 247.9 L80.5 246.8" fill="none" stroke="#ea5454" stroke-width="0.75" stroke-linejoin="round"/>
<path d="M29.7 240.5 L35.3 243.8 L41.0 254.8 L46.6 253.2 L52.3 257.0 L57.9 245.4 L63.6 241.0 L69.2 269.0" fill="none" stroke="#4444dc" stroke-width="0.75" stroke-linejoin="round"/>
<path d="M29.7 241.0 L35.3 250.4 L41.0 246.5 L46.6 245.4 L52.3 244.9 L57.9 243.8" fill="none" stroke="#ec5aec" stroke-width="0.75" stroke-linejoin="round"/>
<path d="M29.7 238.5 L35.3 246.5 L41.0 244.0 L46.6 247.0" fill="none" stroke="#a45cc4" stroke-width="0.75" stroke-linejoin="round"/>
<path d="M41.0 242.7 L46.6 245.4 L52.3 250.4 L57.9 242.7" fill="none" stroke="#dcdc6a" stroke-width="0.75" stroke-linejoin="round"/>
<path d="M63.6 247.0 L69.2 236.8" fill="none" stroke="#a45cc4" stroke-width="0.75" stroke-linejoin="round"/>
<path d="M69.2 248.7 L74.9 245.5" fill="none" stroke="#ec5aec" stroke-width="0.75" stroke-linejoin="round"/>
<path d="M91.8 247.0 L97.5 260.5 L103.1 242.4" fill="none" stroke="#ec5aec" stroke-width="0.75" stroke-linejoin="round"/>
<path d="M97.5 253.3 L103.1 258.3 L108.8 259.6" fill="none" stroke="#4444dc" stroke-width="0.75" stroke-linejoin="round"/>
<path d="M137.0 257.4 L142.7 260.5" fill="none" stroke="#ec5aec" stroke-width="0.75" stroke-linejoin="round"/>
<path d="M176.6 243.6 L182.2 241.9" fill="none" stroke="#ea5454" stroke-width="0.75" stroke-linejoin="round"/>
<path d="M182.2 251.4 L187.9 258.3" fill="none" stroke="#dcdc6a" stroke-width="0.75" stroke-linejoin="round"/>
<path d="M193.5 258.3 L199.2 246.2" fill="none" stroke="#ea5454" stroke-width="0.75" stroke-linejoin="round"/>
<path d="M199.2 267.0 L204.8 257.5" fill="none" stroke="#dcdc6a" stroke-width="0.75" stroke-linejoin="round"/>
<path d="M216.1 242.4 L221.8 242.4 L227.4 273.9" fill="none" stroke="#ec5aec" stroke-width="0.75" stroke-linejoin="round"/>
<path d="M227.4 246.3 L233.1 250.3" fill="none" stroke="#a45cc4" stroke-width="0.75" stroke-linejoin="round"/>
<path d="M238.7 247.6 L244.4 236.6 L250.0 240.5 L255.7 234.2 L261.3 231.4 L267.0 232.9 L272.6 230.4 L278.3 229.1 L283.9 227.6 L289.6 228.5 L295.2 227.2 L300.9 226.3 L306.5 227.6" fill="none" stroke="#5cd8de" stroke-width="0.75" stroke-linejoin="round"/>
<path d="M244.4 250.3 L250.0 249.5 L255.7 254.2 L261.3 267.3 L267.0 275.9 L272.6 244.6 L278.3 243.7 L283.9 252.2" fill="none" stroke="#a45cc4" stroke-width="0.75" stroke-linejoin="round"/>
<path d="M250.0 269.2 L255.7 254.2 L261.3 239.9" fill="none" stroke="#ec5aec" stroke-width="0.75" stroke-linejoin="round"/>
<path d="M255.7 248.4 L261.3 243.7 L267.0 259.8 L272.6 262.6 L278.3 241.8 L283.9 247.5 L289.6 241.8 L295.2 242.7 L300.9 244.6 L306.5 250.3" fill="none" stroke="#dcdc6a" stroke-width="0.75" stroke-linejoin="round"/>
<path d="M267.0 252.2 L272.6 246.5 L278.3 267.3 L283.9 244.6 L289.6 244.6 L295.2 242.7 L300.9 248.4 L306.5 253.1" fill="none" stroke="#ea5454" stroke-width="0.75" stroke-linejoin="round"/>
<path d="M289.6 246.5 L295.2 245.6 L300.9 252.2 L306.5 258.8" fill="none" stroke="#ec5aec" stroke-width="0.75" stroke-linejoin="round"/>
<path d="M295.2 256.0 L300.9 237.0 L306.5 249.4" fill="none" stroke="#a45cc4" stroke-width="0.75" stroke-linejoin="round"/>
<path d="M342.2 224.4 L347.8 225.7 L353.4 226.3 L359.1 225.7 L364.7 224.4 L370.3 223.8 L375.9 225.0 L381.5 227.4 L387.2 228.2 L392.8 226.6 L398.4 232.1 L404.0 229.7 L409.6 230.0 L415.3 232.9 L420.9 240.5 L426.5 239.2" fill="none" stroke="#dcdc6a" stroke-width="0.75" stroke-linejoin="round"/>
<path d="M342.2 227.6 L347.8 233.9 L353.4 229.5" fill="none" stroke="#a45cc4" stroke-width="0.75" stroke-linejoin="round"/>
<path d="M342.2 228.8 L347.8 232.6 L353.4 236.4 L359.1 252.2" fill="none" stroke="#5c5c5c" stroke-width="0.75" stroke-linejoin="round"/>
<path d="M342.2 235.8 L347.8 239.0 L353.4 232.6 L359.1 238.3 L364.7 255.4" fill="none" stroke="#56b256" stroke-width="0.75" stroke-linejoin="round"/>
<path d="M342.2 241.5 L347.8 247.2 L353.4 232.6 L359.1 234.5" fill="none" stroke="#4444dc" stroke-width="0.75" stroke-linejoin="round"/>
<path d="M347.8 240.2 L353.4 238.3 L359.1 243.4" fill="none" stroke="#ea5454" stroke-width="0.75" stroke-linejoin="round"/>
<path d="M347.8 239.6 L353.4 256.7 L359.1 243.4" fill="none" stroke="#5cd8de" stroke-width="0.75" stroke-linejoin="round"/>
<path d="M342.2 254.8 L347.8 271.4 L353.4 243.4 L359.1 246.3 L364.7 245.3 L370.3 244.4" fill="none" stroke="#ec5aec" stroke-width="0.75" stroke-linejoin="round"/>
<path d="M364.7 240.8 L370.3 242.4 L375.9 234.5 L381.5 249.4" fill="none" stroke="#a45cc4" stroke-width="0.75" stroke-linejoin="round"/>
<path d="M370.3 238.4 L375.9 239.2" fill="none" stroke="#5cd8de" stroke-width="0.75" stroke-linejoin="round"/>
<path d="M375.9 245.5 L381.5 235.3 L387.2 238.4 L392.8 242.4 L398.4 242.4" fill="none" stroke="#ee9474" stroke-width="0.75" stroke-linejoin="round"/>
<path d="M387.2 277.7 L392.8 248.7 L398.4 243.9 L404.0 243.9" fill="none" stroke="#5cd8de" stroke-width="0.75" stroke-linejoin="round"/>
<path d="M404.0 240.0 L409.6 244.7" fill="none" stroke="#ea5454" stroke-width="0.75" stroke-linejoin="round"/>
<path d="M398.4 257.3 L404.0 252.2 L409.6 247.1" fill="none" stroke="#ec5aec" stroke-width="0.75" stroke-linejoin="round"/>
<path d="M432.1 243.6 L437.7 255.0" fill="none" stroke="#ec5aec" stroke-width="0.75" stroke-linejoin="round"/>
<path d="M437.7 255.0 L443.4 243.9 L449.0 242.0 L454.6 243.1" fill="none" stroke="#ee9474" stroke-width="0.75" stroke-linejoin="round"/>
<path d="M449.0 244.7 L454.6 264.4" fill="none" stroke="#ec5aec" stroke-width="0.75" stroke-linejoin="round"/>
<path d="M166.6 86.9 C167.0 85.8 168.1 82.3 169.1 80.3 C170.1 78.3 170.7 76.9 172.3 75.0 C173.9 73.1 176.3 71.6 178.9 68.9 C181.5 66.2 185.6 61.6 188.0 59.1 C190.4 56.6 191.1 55.7 193.1 54.2 C195.1 52.7 196.3 52.0 200.0 49.9 C203.7 47.8 206.6 44.5 215.0 41.5 C223.4 38.5 237.9 34.4 250.2 32.0 C262.5 29.6 279.1 28.1 288.7 27.0 C298.3 25.9 304.5 25.5 307.6 25.2" fill="none" stroke="#3a3a3a" stroke-width="0.7"/>
<circle cx="169.1" cy="80.3" r="1.25" fill="#000"/>
<circle cx="188.0" cy="59.1" r="1.25" fill="#000"/>
<circle cx="215.0" cy="41.5" r="1.25" fill="#000"/>
<circle cx="250.2" cy="32.0" r="1.25" fill="#000"/>
<circle cx="288.7" cy="27.0" r="1.25" fill="#000"/>
<path d="M178.0 86.0 C178.8 84.7 180.6 80.8 182.7 78.0 C184.8 75.2 187.5 72.2 190.3 68.9 C193.1 65.7 194.8 62.6 199.7 58.5 C204.6 54.4 211.5 47.9 219.7 44.0 C227.9 40.1 237.6 37.3 248.9 34.9 C260.2 32.5 277.8 31.0 287.6 29.7 C297.4 28.4 304.3 27.6 307.6 27.2" fill="none" stroke="#5fb85f" stroke-width="0.7"/>
<path d="M181.2 77.4H184.2L182.7 79.6Z" fill="#2e8b2e"/>
<path d="M198.2 57.9H201.2L199.7 60.1Z" fill="#2e8b2e"/>
<path d="M218.2 43.4H221.2L219.7 45.6Z" fill="#2e8b2e"/>
<path d="M247.4 34.3H250.4L248.9 36.5Z" fill="#2e8b2e"/>
<path d="M286.1 29.1H289.1L287.6 31.3Z" fill="#2e8b2e"/>
<path d="M189.3 97.7 L194.5 102" fill="none" stroke="#4a4ae0" stroke-width="0.7"/>
<path d="M194.5 102.0 C194.9 100.2 196.4 94.4 197.1 91.3 C197.8 88.2 197.9 85.9 198.5 83.5 C199.1 81.1 199.6 78.8 200.4 77.1 C201.2 75.4 202.0 74.6 203.2 73.1 C204.4 71.5 205.8 69.9 207.8 67.8 C209.8 65.7 212.3 63.2 215.0 60.7 C217.7 58.2 217.8 55.8 224.0 52.5 C230.2 49.2 241.0 44.1 252.1 41.2 C263.2 38.3 281.6 36.5 290.8 35.2 C300.1 33.9 304.8 33.5 307.6 33.2" fill="none" stroke="#4a4ae0" stroke-width="0.7"/>
<circle cx="195.2" cy="98.7" r="1.25" fill="#2020b0"/>
<circle cx="203.2" cy="73.1" r="1.25" fill="#2020b0"/>
<circle cx="224.0" cy="52.5" r="1.25" fill="#2020b0"/>
<circle cx="252.1" cy="41.2" r="1.25" fill="#2020b0"/>
<circle cx="290.8" cy="35.2" r="1.25" fill="#2020b0"/>
<path d="M471.2 94.2 C472.1 92.1 475.1 84.9 476.8 81.5 C478.5 78.1 479.7 76.5 481.5 73.7 C483.3 70.9 485.3 67.1 487.6 64.6 C489.9 62.1 492.4 61.1 495.2 58.6 C498.0 56.1 501.6 51.6 504.6 49.5 C507.6 47.4 509.7 47.0 513.4 45.7 C517.1 44.5 519.4 43.3 527.0 42.0 C534.6 40.7 547.1 39.0 559.3 37.9 C571.5 36.8 590.2 35.7 600.0 35.1 C609.8 34.5 615.0 34.4 618.0 34.2" fill="none" stroke="#3a3a3a" stroke-width="0.7"/>
<circle cx="481.5" cy="73.7" r="1.25" fill="#000"/>
<circle cx="513.4" cy="45.7" r="1.25" fill="#000"/>
<circle cx="559.3" cy="37.9" r="1.25" fill="#000"/>
<circle cx="600.0" cy="35.1" r="1.25" fill="#000"/>
<path d="M482.3 90.2 C483.2 88.8 485.6 84.4 487.6 81.7 C489.6 79.0 492.3 76.7 494.5 74.2 C496.7 71.7 498.6 69.1 500.8 66.5 C503.0 63.9 505.5 61.0 507.5 58.6 C509.5 56.2 510.4 54.0 512.6 52.2 C514.8 50.4 517.0 49.5 520.9 48.0 C524.8 46.5 529.3 44.6 536.2 43.4 C543.1 42.2 551.2 41.5 562.1 40.7 C573.0 39.9 592.6 39.2 601.9 38.8 C611.2 38.4 615.3 38.4 618.0 38.3" fill="none" stroke="#5fb85f" stroke-width="0.7"/>
<path d="M493.0 73.6H496.0L494.5 75.8Z" fill="#2e8b2e"/>
<path d="M519.4 47.4H522.4L520.9 49.6Z" fill="#2e8b2e"/>
<path d="M560.6 40.1H563.6L562.1 42.3Z" fill="#2e8b2e"/>
<path d="M600.4 38.2H603.4L601.9 40.4Z" fill="#2e8b2e"/>
<path d="M499.4 82.3 L505.1 80.8" fill="none" stroke="#4a4ae0" stroke-width="0.7"/>
<path d="M505.1 80.8 C506.2 79.7 509.8 76.4 511.6 74.0 C513.4 71.6 514.5 69.1 516.0 66.5 C517.5 63.9 519.2 60.8 520.7 58.6 C522.2 56.5 523.1 55.1 525.1 53.6 C527.1 52.1 529.1 50.7 532.5 49.5 C535.9 48.3 540.4 47.2 545.5 46.2 C550.6 45.2 553.4 44.6 563.0 43.8 C572.6 43.0 594.0 42.1 603.2 41.6 C612.4 41.1 615.5 41.1 618.0 41.0" fill="none" stroke="#4a4ae0" stroke-width="0.7"/>
<circle cx="511.6" cy="74.0" r="1.25" fill="#2020b0"/>
<circle cx="532.5" cy="49.5" r="1.25" fill="#2020b0"/>
<circle cx="563.0" cy="43.8" r="1.25" fill="#2020b0"/>
<circle cx="603.2" cy="41.6" r="1.25" fill="#2020b0"/>
<path d="M159.9 248.0 C160.8 245.8 163.9 237.8 165.6 235.0 C167.3 232.2 168.5 233.4 170.3 231.5 C172.1 229.6 174.4 226.4 176.6 223.7 C178.8 220.9 181.4 217.6 183.6 215.0 C185.8 212.4 186.4 210.7 189.7 208.3 C192.9 205.9 198.5 202.9 203.1 200.4 C207.7 197.9 209.7 195.4 217.3 193.4 C224.9 191.4 236.5 189.6 248.6 188.2 C260.7 186.8 280.2 185.5 289.9 184.7 C299.5 183.9 303.7 183.6 306.5 183.4" fill="none" stroke="#3a3a3a" stroke-width="0.7"/>
<circle cx="170.3" cy="231.5" r="1.25" fill="#000"/>
<circle cx="203.1" cy="200.4" r="1.25" fill="#000"/>
<circle cx="248.6" cy="188.2" r="1.25" fill="#000"/>
<circle cx="289.9" cy="184.7" r="1.25" fill="#000"/>
<path d="M171.2 251.4 C172.1 249.7 174.8 244.2 176.6 241.0 C178.4 237.8 179.4 236.1 181.9 232.3 C184.4 228.6 188.4 221.9 191.4 218.5 C194.4 215.1 197.0 214.0 200.0 211.6 C203.0 209.2 205.2 206.5 209.5 203.8 C213.8 201.1 219.1 197.3 226.0 195.2 C232.9 193.1 240.2 192.5 251.2 191.2 C262.2 189.9 282.8 188.2 292.0 187.3 C301.2 186.5 304.1 186.3 306.5 186.1" fill="none" stroke="#5fb85f" stroke-width="0.7"/>
<path d="M180.4 231.7H183.4L181.9 233.9Z" fill="#2e8b2e"/>
<path d="M208.0 203.2H211.0L209.5 205.4Z" fill="#2e8b2e"/>
<path d="M249.7 190.6H252.7L251.2 192.8Z" fill="#2e8b2e"/>
<path d="M290.5 186.7H293.5L292.0 188.9Z" fill="#2e8b2e"/>
<path d="M188.2 243.6 L193.5 250.5" fill="none" stroke="#4a4ae0" stroke-width="0.7"/>
<path d="M193.5 250.5 C194.5 247.5 197.2 237.1 199.4 232.3 C201.7 227.5 204.6 224.8 207.0 221.9 C209.4 219.0 211.4 217.2 213.9 215.0 C216.4 212.8 218.7 211.2 222.2 209.0 C225.7 206.8 229.4 204.1 234.7 202.1 C240.0 200.1 244.5 198.8 254.1 197.2 C263.7 195.6 283.6 193.6 292.3 192.6 C301.0 191.6 304.1 191.4 306.5 191.2" fill="none" stroke="#4a4ae0" stroke-width="0.7"/>
<circle cx="199.4" cy="232.3" r="1.25" fill="#2020b0"/>
<circle cx="222.2" cy="209.0" r="1.25" fill="#2020b0"/>
<circle cx="254.1" cy="197.2" r="1.25" fill="#2020b0"/>
<circle cx="292.3" cy="192.6" r="1.25" fill="#2020b0"/>
<path d="M404.1 246.1 C404.5 244.8 405.4 241.4 406.4 238.6 C407.3 235.8 408.6 231.8 409.8 229.1 C411.1 226.4 412.3 224.7 413.9 222.5 C415.5 220.3 416.9 218.7 419.6 216.2 C422.3 213.7 425.8 209.7 430.0 207.3 C434.2 204.9 439.9 203.0 445.0 201.6 C450.1 200.2 455.6 199.4 460.3 198.7 C465.0 198.0 464.8 197.9 473.1 197.6 C481.4 197.3 495.5 197.0 510.0 196.9 C524.5 196.8 542.1 197.0 560.0 197.0 C577.9 197.0 608.0 196.8 617.6 196.8" fill="none" stroke="#3a3a3a" stroke-width="0.7"/>
<circle cx="409.8" cy="229.1" r="1.25" fill="#000"/>
<circle cx="430.0" cy="207.3" r="1.25" fill="#000"/>
<circle cx="460.3" cy="198.7" r="1.25" fill="#000"/>
<path d="M420.6 239.5 C421.1 238.6 422.0 236.5 423.4 233.8 C424.8 231.1 426.9 226.7 429.1 223.4 C431.3 220.1 434.2 216.2 436.7 213.9 C439.2 211.6 441.2 211.2 444.0 209.5 C446.8 207.8 449.6 205.2 453.2 203.6 C456.8 202.0 460.2 200.8 465.4 199.8 C470.6 198.9 476.8 198.3 484.2 197.9 C491.6 197.5 497.4 197.4 510.0 197.5 C522.6 197.6 542.1 198.4 560.0 198.6 C577.9 198.8 608.0 198.8 617.6 198.9" fill="none" stroke="#5fb85f" stroke-width="0.7"/>
<path d="M421.9 233.2H424.9L423.4 235.4Z" fill="#2e8b2e"/>
<path d="M442.5 208.9H445.5L444.0 211.1Z" fill="#2e8b2e"/>
<path d="M463.9 199.2H466.9L465.4 201.4Z" fill="#2e8b2e"/>
<path d="M437.6 236.7 C437.9 235.8 438.0 234.0 439.6 231.0 C441.2 228.0 444.7 222.2 447.4 218.7 C450.1 215.1 452.7 212.3 455.9 209.7 C459.1 207.1 463.1 204.7 466.5 203.1 C469.9 201.5 471.6 201.0 476.4 200.2 C481.2 199.4 489.6 198.7 495.2 198.3 C500.8 197.9 499.2 197.7 510.0 197.6 C520.8 197.5 542.1 197.5 560.0 197.5 C577.9 197.5 608.0 197.4 617.6 197.4" fill="none" stroke="#4a4ae0" stroke-width="0.7"/>
<circle cx="439.6" cy="231.0" r="1.25" fill="#2020b0"/>
<circle cx="455.9" cy="209.7" r="1.25" fill="#2020b0"/>
<circle cx="476.4" cy="200.2" r="1.25" fill="#2020b0"/>
<path d="M460.0 232.8 C460.6 231.8 461.2 229.5 463.5 226.8 C465.8 224.1 470.5 219.6 473.9 216.4 C477.3 213.2 479.7 210.4 484.0 207.6 C488.3 204.8 496.0 201.3 499.7 199.8 C503.4 198.3 497.2 198.7 506.4 198.5 C515.6 198.3 536.5 198.7 555.0 198.8 C573.5 198.9 607.2 199.2 617.6 199.3" fill="none" stroke="#5cd8de" stroke-width="0.7"/>
<circle cx="463.5" cy="226.8" r="1.1" fill="#30b0c0"/>
<circle cx="484.0" cy="207.6" r="1.1" fill="#30b0c0"/>
<circle cx="499.7" cy="199.8" r="1.1" fill="#30b0c0"/>
<path d="M465.3 255.5 C466.1 253.6 468.4 247.8 470.1 244.1 C471.8 240.4 473.5 236.9 475.6 233.5 C477.7 230.1 479.6 227.5 482.7 223.9 C485.8 220.3 491.1 214.7 494.1 211.9 C497.1 209.1 497.9 209.0 500.7 207.3 C503.5 205.7 507.3 203.3 511.1 202.0 C514.9 200.7 516.1 200.2 523.4 199.6 C530.7 199.0 539.3 198.5 555.0 198.3 C570.7 198.1 607.2 198.2 617.6 198.2" fill="none" stroke="#a45cc4" stroke-width="0.7"/>
<path d="M474.2 233.5H477.0" stroke="#702090" stroke-width="1.4"/>
<path d="M492.7 211.9H495.5" stroke="#702090" stroke-width="1.4"/>
<path d="M509.7 202.0H512.5" stroke="#702090" stroke-width="1.4"/>
<path d="M476.9 250.8 C477.2 249.5 477.9 245.9 478.9 242.9 C479.9 239.9 481.0 236.6 482.9 233.0 C484.8 229.4 487.4 225.0 490.3 221.4 C493.2 217.8 497.5 213.9 500.5 211.5 C503.5 209.1 505.5 208.3 508.2 206.8 C510.9 205.3 513.3 203.6 516.8 202.4 C520.3 201.2 522.7 200.5 529.1 199.8 C535.5 199.1 540.2 198.5 555.0 198.2 C569.8 197.9 607.2 197.9 617.6 197.9" fill="none" stroke="#ea5454" stroke-width="0.7"/>
<circle cx="482.9" cy="233.0" r="1.1" fill="#e06030"/>
<circle cx="500.5" cy="211.5" r="1.1" fill="#e06030"/>
<circle cx="516.8" cy="202.4" r="1.1" fill="#e06030"/>
<path d="M499.5 242.3 C499.8 241.7 499.7 241.1 501.5 238.5 C503.3 235.9 507.4 230.2 510.1 226.6 C512.8 223.0 515.2 219.6 517.7 217.2 C520.2 214.8 521.8 214.0 525.3 212.4 C528.8 210.8 533.5 209.0 538.5 207.7 C543.5 206.3 550.7 205.1 555.0 204.3 C559.3 203.5 557.2 203.4 564.3 202.8 C571.4 202.2 588.6 201.3 597.5 200.9 C606.4 200.5 614.2 200.5 617.6 200.4" fill="none" stroke="#ec5aec" stroke-width="0.7"/>
<circle cx="501.5" cy="238.5" r="1.2" fill="#e8e8e8" stroke="#2a2a2a" stroke-width="0.75"/>
<circle cx="525.3" cy="212.4" r="1.2" fill="#e8e8e8" stroke="#2a2a2a" stroke-width="0.75"/>
<circle cx="564.3" cy="202.8" r="1.2" fill="#e8e8e8" stroke="#2a2a2a" stroke-width="0.75"/>
<circle cx="597.5" cy="200.9" r="1.2" fill="#e8e8e8" stroke="#2a2a2a" stroke-width="0.75"/>
<path d="M505.2 270.6 C505.6 267.2 507.1 255.4 507.9 250.4 C508.6 245.4 508.7 244.1 509.7 240.8 C510.7 237.5 512.2 233.6 513.9 230.4 C515.5 227.2 517.2 224.7 519.6 221.9 C522.0 219.1 524.6 215.5 528.1 213.4 C531.6 211.3 535.9 210.7 540.4 209.6 C544.9 208.5 550.5 207.6 555.0 206.8 C559.5 206.0 560.2 205.2 567.7 204.6 C575.2 204.0 591.4 203.5 599.7 203.1 C608.0 202.7 614.6 202.3 617.6 202.2" fill="none" stroke="#ee9474" stroke-width="0.7"/>
<circle cx="509.7" cy="240.8" r="1.2" fill="#e8e8e8" stroke="#2a2a2a" stroke-width="0.75"/>
<circle cx="528.1" cy="213.4" r="1.2" fill="#e8e8e8" stroke="#2a2a2a" stroke-width="0.75"/>
<circle cx="567.7" cy="204.6" r="1.2" fill="#e8e8e8" stroke="#2a2a2a" stroke-width="0.75"/>
<circle cx="599.7" cy="203.1" r="1.2" fill="#e8e8e8" stroke="#2a2a2a" stroke-width="0.75"/>
<path d="M555.5 243.5 L557.3 239.7 L562.1 231.4 L566.6 226.5 L576.5 225.8 L589.3 223.2 L594.2 224.7 L606.3 220.3 L617.6 221.0" fill="none" stroke="#d8d860" stroke-width="0.8"/>
<circle cx="557.3" cy="239.7" r="1.1" fill="#fff" stroke="#888" stroke-width="0.5"/>
<circle cx="566.6" cy="226.5" r="1.1" fill="#fff" stroke="#888" stroke-width="0.5"/>
<circle cx="589.3" cy="223.2" r="1.1" fill="#fff" stroke="#888" stroke-width="0.5"/>
<circle cx="606.3" cy="220.3" r="1.1" fill="#fff" stroke="#888" stroke-width="0.5"/>
<path d="M31.3 54.45H307.8" stroke="#4e4e50" stroke-width="1.1"/>
<path d="M31.3 55.4H307.8" stroke="#5a4a6c" stroke-width="1.0"/>
<path d="M31.3 55.1H51.3" stroke="#6c4cf0" stroke-width="1.0"/>
<text x="31.0" y="55.1" font-family="Liberation Sans, sans-serif" font-size="4.95" font-weight="bold" fill="#c8101c" stroke="#c8101c" stroke-width="0.15">0.049515</text>
<path d="M341.3 59.7H618.0" stroke="#c8a0a0" stroke-width="0.7"/>
<path d="M341.3 58.75H618.0" stroke="#333" stroke-width="1.5"/>
<text x="341.0" y="58.4" font-family="Liberation Sans, sans-serif" font-size="4.95" font-weight="bold"><tspan fill="#d02020">0</tspan><tspan fill="#d02020">.</tspan><tspan fill="#505050">0</tspan><tspan fill="#484848">3</tspan><tspan fill="#d02020">1</tspan><tspan fill="#383838">1</tspan><tspan fill="#d02020">6</tspan><tspan fill="#d02020">6</tspan></text>
<path d="M29.7 219.3H306.5" stroke="#d4e4e0" stroke-width="0.8"/>
<path d="M29.7 220.5H306.5" stroke="#141414" stroke-width="1.45"/>
<text x="29.4" y="220.3" font-family="Liberation Sans, sans-serif" font-size="4.95" font-weight="bold" fill="#cc1418" stroke="#cc1418" stroke-width="0">0.019973</text>
<path d="M342.2 216.8H617.6" stroke="#555" stroke-width="2.0"/>
<text x="341.9" y="217.0" font-family="Liberation Sans, sans-serif" font-size="4.95" font-weight="bold" fill="#cc1418" stroke="#cc1418" stroke-width="0">0.01732</text>
</svg></body></html>
